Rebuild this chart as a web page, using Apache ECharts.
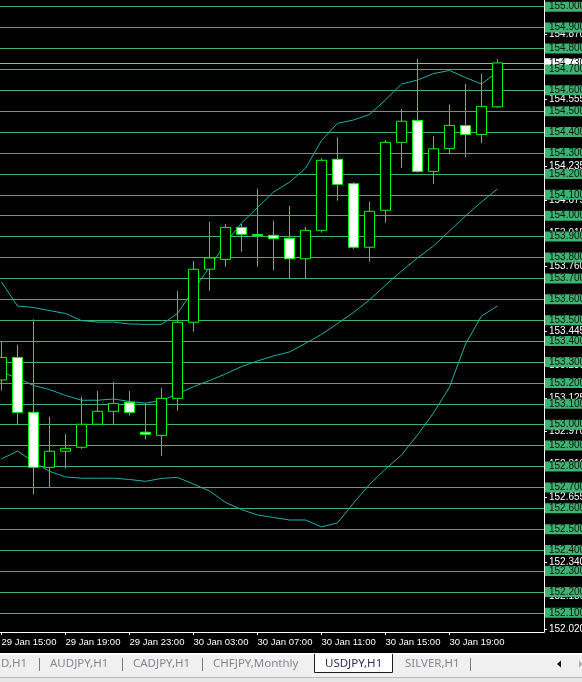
<!DOCTYPE html>
<html>
<head>
<meta charset="utf-8">
<title>USDJPY,H1</title>
<script src="https://cdn.jsdelivr.net/npm/echarts@6/dist/echarts.min.js"></script>
<style>
  html, body { margin: 0; padding: 0; background: #000; }
  #chart { width: 582px; height: 682px; }
</style>
</head>
<body>
<div id="chart"></div>
<script>
// H1 bars, 29 Jan 15:00 .. 30 Jan 22:00
const times = [
  '29 Jan 15:00', '29 Jan 16:00', '29 Jan 17:00', '29 Jan 18:00', '29 Jan 19:00', '29 Jan 20:00',
  '29 Jan 21:00', '29 Jan 22:00', '29 Jan 23:00', '30 Jan 00:00', '30 Jan 01:00', '30 Jan 02:00',
  '30 Jan 03:00', '30 Jan 04:00', '30 Jan 05:00', '30 Jan 06:00', '30 Jan 07:00', '30 Jan 08:00',
  '30 Jan 09:00', '30 Jan 10:00', '30 Jan 11:00', '30 Jan 12:00', '30 Jan 13:00', '30 Jan 14:00',
  '30 Jan 15:00', '30 Jan 16:00', '30 Jan 17:00', '30 Jan 18:00', '30 Jan 19:00', '30 Jan 20:00',
  '30 Jan 21:00', '30 Jan 22:00'
]
const openVals = [
  153.214, 153.322, 153.059, 152.796, 152.873, 152.892, 153.002, 153.064, 153.107, 152.964,
  152.949, 153.126, 153.490, 153.744, 153.791, 153.944, 153.910, 153.906, 153.892, 153.794,
  153.930, 154.270, 154.153, 153.849, 154.026, 154.351, 154.456, 154.212, 154.322, 154.431,
  154.389, 154.521
]
const closeVals = [
  153.322, 153.059, 152.796, 152.873, 152.887, 153.002, 153.064, 153.102, 153.059, 152.954,
  153.126, 153.490, 153.744, 153.798, 153.944, 153.911, 153.905, 153.890, 153.794, 153.930,
  154.265, 154.150, 153.849, 154.021, 154.351, 154.452, 154.212, 154.320, 154.432, 154.389,
  154.523, 154.731
]
const lowVals = [
  153.163, 152.999, 152.667, 152.700, 152.790, 152.885, 153.000, 153.005, 153.043, 152.930,
  152.852, 153.067, 153.445, 153.641, 153.756, 153.828, 153.756, 153.740, 153.700, 153.700,
  153.919, 154.072, 153.841, 153.780, 153.966, 154.230, 154.206, 154.153, 154.300, 154.280,
  154.348, 154.516
]
const highVals = [
  153.397, 153.381, 153.504, 153.037, 152.955, 153.133, 153.161, 153.204, 153.161, 153.102,
  153.176, 153.640, 153.783, 153.970, 153.960, 153.960, 154.128, 153.975, 154.046, 153.946,
  154.275, 154.375, 154.160, 154.066, 154.362, 154.510, 154.750, 154.380, 154.532, 154.630,
  154.679, 154.749
]

// Bollinger bands
const upperBand = [
  153.683, 153.568, 153.561, 153.546, 153.532, 153.498, 153.491, 153.491, 153.482, 153.480,
  153.480, 153.532, 153.646, 153.753, 153.868, 153.965, 154.039, 154.113, 154.160, 154.227,
  154.360, 154.442, 154.458, 154.484, 154.554, 154.630, 154.649, 154.680, 154.695, 154.661,
  154.630, 154.688
]
const midBand = [
  153.252, 153.223, 153.188, 153.168, 153.140, 153.117, 153.117, 153.123, 153.111, 153.103,
  153.116, 153.147, 153.182, 153.211, 153.243, 153.278, 153.305, 153.329, 153.348, 153.389,
  153.432, 153.484, 153.537, 153.597, 153.668, 153.735, 153.798, 153.855, 153.927, 153.999,
  154.066, 154.128
]
const lowerBand = [
  152.836, 152.874, 152.822, 152.777, 152.750, 152.744, 152.744, 152.744, 152.738, 152.729,
  152.743, 152.748, 152.716, 152.683, 152.628, 152.594, 152.568, 152.556, 152.544, 152.544,
  152.511, 152.530, 152.625, 152.714, 152.788, 152.855, 152.951, 153.056, 153.180, 153.386,
  153.520, 153.568
]

// horizontal price levels with green tags
const levelPrices = [
  152.1, 152.2, 152.3, 152.4, 152.5, 152.6, 152.7, 152.8, 152.9, 153.0,
  153.1, 153.2, 153.3, 153.4, 153.5, 153.6, 153.7, 153.8, 153.9, 154.0,
  154.1, 154.2, 154.3, 154.4, 154.5, 154.6, 154.7, 154.8, 154.9, 155.0
]
const bidPrice = 154.731

// price scale ticks / time scale ticks
const priceTicks = [
  152.020, 152.180, 152.340, 152.495, 152.655, 152.810, 152.970, 153.125, 153.285, 153.445,
  153.600, 153.760, 153.915, 154.075, 154.235, 154.395, 154.555, 154.715, 154.870
]
const timeTickIdx = [0, 4, 8, 12, 16, 20, 24, 28]

const tabs = ['D,H1', 'AUDJPY,H1', 'CADJPY,H1', 'CHFJPY,Monthly', 'USDJPY,H1', 'SILVER,H1']
const activeTab = 'USDJPY,H1'

const GREEN = '#3cb371'
const BAND = '#20b2aa'
const FONT = 'Liberation Sans'

const candleData = times.map((t, i) => [i, openVals[i], closeVals[i], lowVals[i], highVals[i]])
const bandSeries = (name, vals) => ({
  name,
  type: 'line',
  data: vals.map((v, i) => [i, v]),
  symbol: 'none',
  z: 2,
  lineStyle: { color: BAND, width: 1 },
  silent: true
})

// tab bar (terminal window chrome)
const tabX = [1, 50, 133, 213, 325, 405]
const sepX = [39.5, 122.5, 202.5, 470.5]
const tabGraphics = [
  { type: 'rect', shape: { x: 0, y: 653, width: 582, height: 29 }, style: { fill: '#f0f0f0' } },
  { type: 'rect', shape: { x: 0, y: 653, width: 582, height: 2 }, style: { fill: '#ffffff' } },
  { type: 'rect', shape: { x: 0, y: 677, width: 582, height: 5 }, style: { fill: '#e6e6e6' } },
  { type: 'line', shape: { x1: 0, y1: 677.5, x2: 582, y2: 677.5 }, style: { stroke: '#b9b9b9', lineWidth: 1 } },
  { type: 'rect', shape: { x: 314, y: 654, width: 79, height: 19 }, style: { fill: '#ffffff' } },
  {
    type: 'polyline',
    shape: { points: [[314.5, 654], [314.5, 672.5], [392.5, 672.5], [392.5, 654]] },
    style: { stroke: '#1e1e1e', lineWidth: 1, fill: null }
  },
  ...sepX.map(x => ({
    type: 'line', shape: { x1: x, y1: 658, x2: x, y2: 671 }, style: { stroke: '#7d7d7d', lineWidth: 1 }
  })),
  ...tabs.map((t, i) => ({
    type: 'text',
    x: tabX[i],
    y: 664,
    style: {
      text: t,
      fill: t === activeTab ? '#352d52' : '#868690',
      font: '11.5px "Noto Sans"',
      verticalAlign: 'middle'
    }
  })),
  { type: 'polygon', shape: { points: [[557, 664], [561, 660.5], [561, 667.5]] }, style: { fill: '#111' } },
  { type: 'polygon', shape: { points: [[579, 660.5], [583, 664], [579, 667.5]] }, style: { fill: '#b0b0b0' } }
]

const chart = echarts.init(document.getElementById('chart'))

chart.setOption({
  backgroundColor: '#000',
  animation: false,
  grid: { left: 0, top: 0, width: 544, height: 632, containLabel: false, outerBoundsMode: 'none' },
  xAxis: {
    type: 'value',
    min: -0.09375,
    max: 33.90625,
    axisLine: { show: true, onZero: false, lineStyle: { color: '#fff', width: 1 } },
    axisTick: { show: true, customValues: timeTickIdx, length: 3, lineStyle: { color: '#fff' } },
    axisLabel: {
      customValues: timeTickIdx,
      formatter: v => times[Math.round(v)],
      color: '#fff',
      fontSize: 9.5,
      fontFamily: FONT,
      align: 'left',
      margin: 5
    },
    splitLine: { show: false }
  },
  yAxis: {
    type: 'value',
    position: 'right',
    min: 152.0081,
    max: 155.0321,
    axisLine: { show: true, onZero: false, lineStyle: { color: '#fff', width: 1 } },
    axisTick: { show: true, customValues: priceTicks, length: 3, lineStyle: { color: '#fff' } },
    axisLabel: {
      customValues: priceTicks,
      formatter: v => v.toFixed(3),
      color: '#fff',
      fontSize: 10,
      fontFamily: FONT,
      margin: 5
    },
    splitLine: { show: false }
  },
  series: [
    {
      name: 'levels',
      type: 'line',
      data: [],
      clip: false,
      silent: true,
      markLine: {
        silent: true,
        z: 1,
        symbol: ['none', 'none'],
        animation: false,
        lineStyle: { color: GREEN, width: 1, type: 'solid' },
        label: {
          show: true,
          position: 'end',
          distance: 1,
          formatter: p => p.value.toFixed(3),
          color: '#111',
          textBorderWidth: 0,
          backgroundColor: GREEN,
          fontSize: 10,
          fontFamily: FONT,
          lineHeight: 9,
          padding: [1, 10, 0, 4]
        },
        data: [
          {
            yAxis: bidPrice,
            lineStyle: { color: '#a9a9a9', width: 1, type: 'solid' },
            label: { backgroundColor: '#fff', color: '#000' }
          },
          ...levelPrices.map(p => ({ yAxis: p }))
        ]
      }
    },
    bandSeries('Upper', upperBand),
    bandSeries('Middle', midBand),
    bandSeries('Lower', lowerBand),
    {
      name: 'USDJPY,H1',
      type: 'candlestick',
      z: 3,
      barWidth: 10,
      encode: { x: 0, y: [1, 2, 3, 4] },
      data: candleData,
      itemStyle: {
        color: '#000',
        color0: '#fff',
        borderColor: '#00ff00',
        borderColor0: '#00ff00',
        borderWidth: 1
      }
    }
  ],
  graphic: tabGraphics
})
</script>
</body>
</html>
